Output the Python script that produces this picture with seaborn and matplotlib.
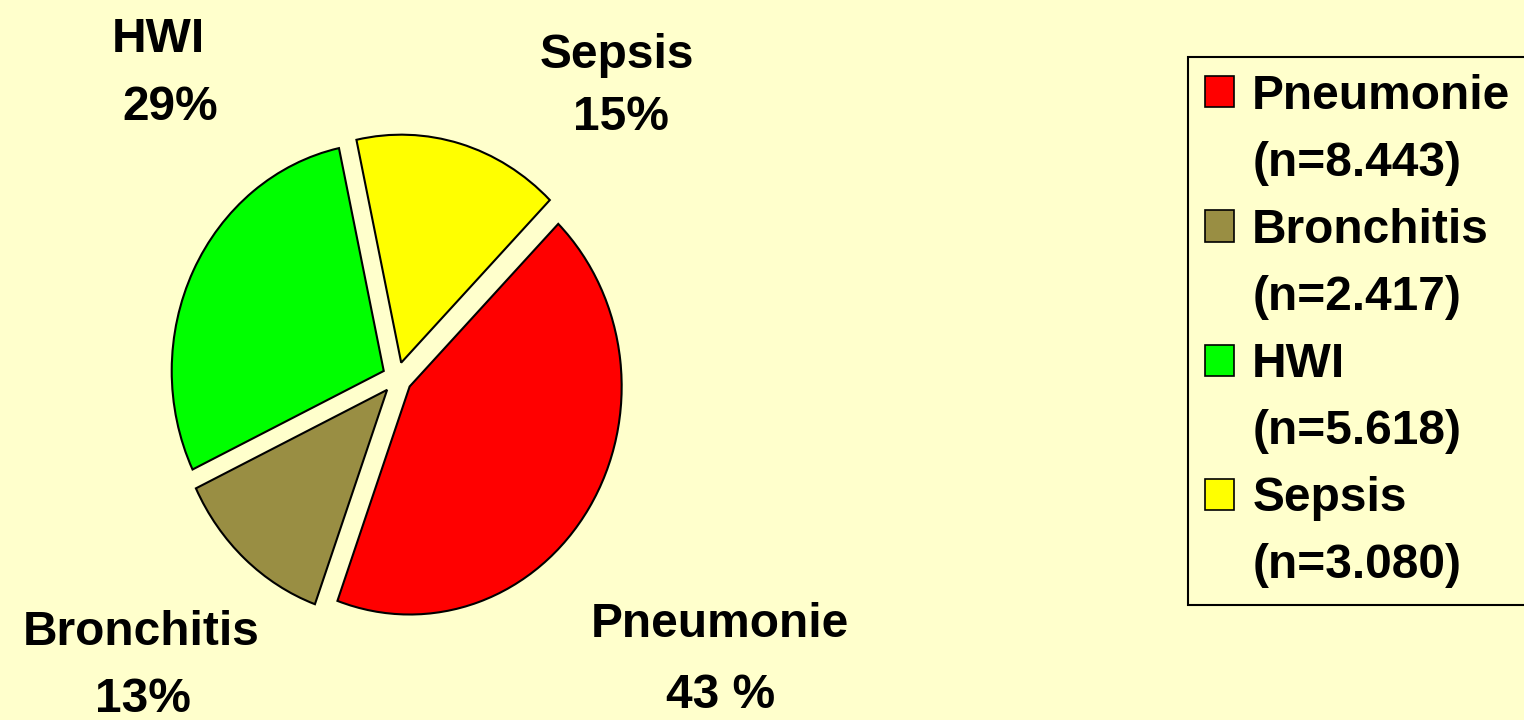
import matplotlib
matplotlib.use("Agg")
import matplotlib.pyplot as plt
import matplotlib.patches as mpatches
import seaborn as sns

# ── data ──────────────────────────────────────────────────────────────────────
categories   = ["Pneumonie", "Bronchitis", "HWI", "Sepsis"]
counts       = [8443, 2417, 5618, 3080]
count_labels = ["(n=8.443)", "(n=2.417)", "(n=5.618)", "(n=3.080)"]
pct_labels   = ["43 %", "13%", "29%", "15%"]

# ── style ─────────────────────────────────────────────────────────────────────
COLORS     = sns.color_palette(["#FF0000", "#998E43", "#00FF00", "#FFFF00"])
BACKGROUND = "#FFFFCC"
W, H       = 1524, 720
FONT_SIZE  = 34.5

sns.set_theme(style="white")
plt.rcParams["font.family"] = ["Liberation Sans", "DejaVu Sans"]
plt.rcParams["font.weight"] = "bold"
plt.rcParams["text.color"] = "black"


def px(x, y):
    """pixel position (from top-left) -> figure fraction"""
    return x / W, 1 - y / H


fig = plt.figure(figsize=(W / 100, H / 100), dpi=100)
fig.patch.set_facecolor(BACKGROUND)

# pie axes: slightly taller than wide, like the original
ax = fig.add_axes([0.0936, 0.095, 0.3339, 0.760])
ax.pie(counts, colors=COLORS, startangle=45.5, counterclock=False,
       explode=[0.07] * len(counts),
       wedgeprops=dict(edgecolor="black", linewidth=1.5))
ax.set_aspect("auto")
ax.set_xlim(-1.2, 1.2)
ax.set_ylim(-1.2, 1.2)
ax.axis("off")

# slice labels (name line / percent line baselines, in px)
name_pos = [(720, 637), (141, 645), (158, 52), (617, 68)]
pct_pos  = [(721, 708), (143, 712), (170, 120), (621, 130)]
for cat, pct, npos, ppos in zip(categories, pct_labels, name_pos, pct_pos):
    fig.text(*px(*npos), cat, ha="center", va="baseline",
             fontsize=FONT_SIZE, fontweight="bold", color="black")
    fig.text(*px(*ppos), pct, ha="center", va="baseline",
             fontsize=FONT_SIZE, fontweight="bold", color="black")

# legend: square marker on the name row, count on its own row below
handles, labels = [], []
for cat, n, c in zip(categories, count_labels, COLORS):
    handles.append(mpatches.Patch(facecolor=c, edgecolor="black", linewidth=1.2))
    labels.append(cat)
    handles.append(mpatches.Patch(facecolor="none", edgecolor="none"))
    labels.append(n)

leg = fig.legend(handles, labels, loc="upper left",
                 bbox_to_anchor=px(1188, 57), borderaxespad=0,
                 prop=dict(size=FONT_SIZE, weight="bold"), labelcolor="black",
                 frameon=True, fancybox=False, framealpha=1,
                 edgecolor="black", facecolor=BACKGROUND,
                 handlelength=0.62, handleheight=0.62,
                 handletextpad=0.37, borderpad=0.35, labelspacing=0.46)
leg.get_frame().set_linewidth(1.5)

fig.savefig("out.png", dpi=100, facecolor=BACKGROUND)
plt.close(fig)
